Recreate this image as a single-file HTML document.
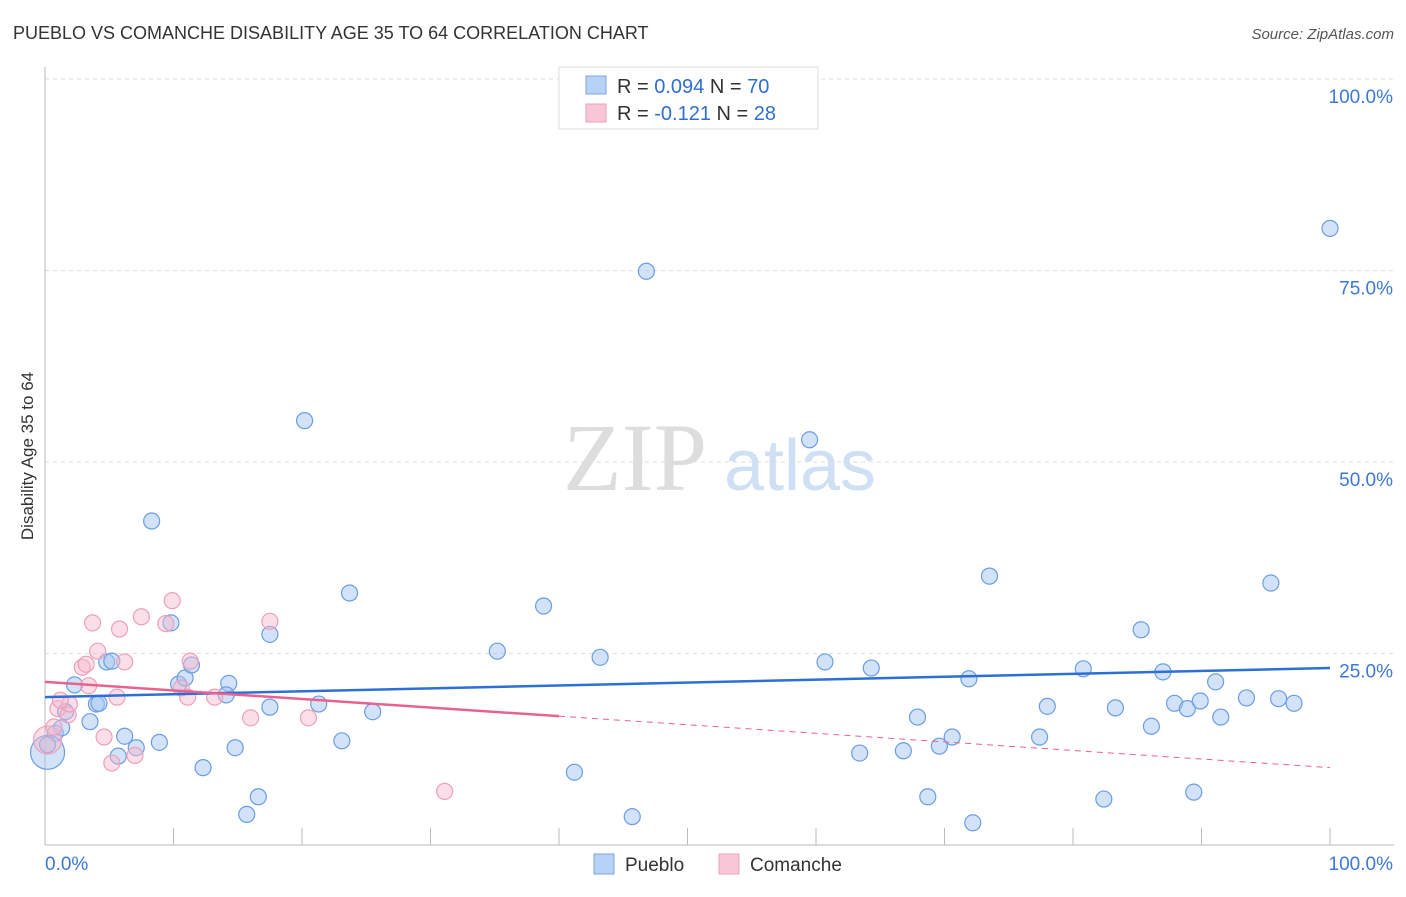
<!DOCTYPE html>
<html><head><meta charset="utf-8"><style>
body{margin:0;background:#fff;font-family:"Liberation Sans",sans-serif;}
svg text{font-family:"Liberation Sans",sans-serif;}
</style></head><body>
<svg id="c" width="1406" height="892">
<text x="13" y="39" font-size="18" fill="#333">PUEBLO VS COMANCHE DISABILITY AGE 35 TO 64 CORRELATION CHART</text>
<text x="1394" y="39" font-size="15" fill="#555" font-style="italic" text-anchor="end">Source: ZipAtlas.com</text>
<text transform="translate(33,456) rotate(-90)" font-size="17" fill="#333" text-anchor="middle">Disability Age 35 to 64</text>
<g>
<text x="635" y="490" font-size="96" fill="#ddd" text-anchor="middle" font-family="Liberation Serif,serif" style="font-family:'Liberation Serif',serif">ZIP</text>
<text x="800" y="490" font-size="72" fill="#cfe0f5" text-anchor="middle">atlas</text>
</g>
<g id="grid"></g><g id="axes"></g><g id="pts"></g><g id="lines"></g>
<g>
<rect x="559" y="67" width="259" height="62" fill="#fff" stroke="#ddd"/>
<rect x="586" y="76" width="20" height="18" fill="#b8d2f5" stroke="#7aa7e6"/>
<rect x="586" y="104" width="20" height="18" fill="#f8c6d6" stroke="#eca3bb"/>
<text x="617" y="93" font-size="20" fill="#333">R = <tspan fill="#2f6fd0">0.094</tspan>   N = <tspan fill="#2f6fd0">70</tspan></text>
<text x="617" y="120" font-size="20" fill="#333">R = <tspan fill="#2f6fd0">-0.121</tspan>   N = <tspan fill="#2f6fd0">28</tspan></text>
</g>
<g>
<rect x="594" y="854" width="20" height="20" fill="#b8d2f5" stroke="#7aa7e6"/>
<text x="625" y="871" font-size="19" fill="#333">Pueblo</text>
<rect x="719" y="854" width="20" height="20" fill="#f8c6d6" stroke="#eca3bb"/>
<text x="750" y="871" font-size="19" fill="#333">Comanche</text>
</g>
</svg>
<script>
const yTicks=[100,75,50,25];
const yTickLabels=["100.0%","75.0%","50.0%","25.0%"];
const xTicks=[0,10,20,30,40,50,60,70,80,90,100];
const puebloX=[0.8,1.3,2.3,3.5,4.0,4.2,4.8,5.2,5.7,6.2,7.1,8.3,8.9,9.8,10.4,10.9,11.4,12.3,14.3,14.1,14.8,15.7,16.6,17.5,17.5,20.2,21.3,23.1,23.7,25.5,35.2,38.8,41.2,43.2,45.7,46.8,59.5,60.7,63.4,64.3,66.8,67.9,68.7,69.6,70.6,71.9,72.2,73.5,77.4,78.0,80.8,82.4,83.3,85.3,86.1,87.0,87.9,88.9,89.9,91.1,91.5,93.5,95.4,96.0,97.2,100,89.4,0.2,1.6,0.2];
const puebloY=[14.6,15.3,20.9,16.1,18.4,18.5,23.9,24.0,11.6,14.2,12.7,42.3,13.4,29.0,21.0,21.8,23.5,10.1,21.1,19.6,12.7,4.0,6.3,27.5,18.0,55.4,18.4,13.6,32.9,17.4,25.3,31.2,9.5,24.5,3.7,74.9,52.9,23.9,12.0,23.1,12.3,16.7,6.3,12.9,14.1,21.7,2.9,35.1,14.1,18.1,23.0,6.0,17.9,28.1,15.5,22.6,18.5,17.8,18.8,21.3,16.7,19.2,34.2,19.1,18.5,80.5,6.9,12.1,17.4,13.1];
const comancheX=[1.0,1.8,1.9,2.9,3.2,3.4,3.7,4.1,4.6,5.2,5.6,5.8,6.2,7.0,7.5,9.4,9.9,10.6,11.1,11.3,13.2,16.0,17.5,20.5,31.1,0.2,0.7,1.2];
const comancheY=[17.8,17.0,18.4,23.2,23.6,20.8,29.0,25.3,14.1,10.7,19.3,28.2,23.9,11.7,29.8,28.9,31.9,20.5,19.3,24.0,19.3,16.6,29.2,16.6,7.0,13.7,15.4,18.9];
const puebloTrend=[19.3,23.1];
const comancheTrend=[21.3,10.1];
const comancheSolidEnd=40;
const X0=45,X1=1330,Y0=845,Y100=79;
const sx=v=>X0+(X1-X0)*v/100, sy=v=>Y0-(Y0-Y100)*v/100;
const NS="http://www.w3.org/2000/svg";
function mk(t,a,p){const e=document.createElementNS(NS,t);for(const k in a)e.setAttribute(k,a[k]);document.getElementById(p).appendChild(e);return e;}
yTicks.forEach((v,i)=>{
 const g=mk('line',{x1:X0,x2:1394,y1:sy(v),y2:sy(v),stroke:'#ddd','stroke-dasharray':'4,4'},'grid');
 
 
 const t=mk('text',{x:1393,y:sy(v)+24,'font-size':19,fill:'#3b78d8','text-anchor':'end'},'axes');
 t.textContent=yTickLabels[i];
 
 
});
const ax=mk('line',{x1:X0,x2:X0,y1:67,y2:Y0,stroke:'#bbb'},'axes');


const bx=mk('line',{x1:X0,x2:1394,y1:Y0,y2:Y0,stroke:'#bbb'},'axes');


xTicks.forEach(v=>{const l=mk('line',{x1:sx(v),x2:sx(v),y1:828,y2:Y0,stroke:'#bbb'},'axes');
 
 });
[["0.0%",45,'start'],["100.0%",1393,'end']].forEach(a=>{const t=mk('text',{x:a[1],y:870,'font-size':19,fill:'#3b78d8','text-anchor':a[2]},'axes');t.textContent=a[0];
 
 });
puebloX.forEach((x,i)=>{const r=(i==67)?17:8;
 const c=mk('circle',{cx:sx(x),cy:sy(puebloY[i]),r:r,fill:'rgba(165,198,242,0.5)',stroke:'#6a9ee4','stroke-width':1.2},'pts');
 
 });
comancheX.forEach((x,i)=>{const r=(i==25)?14:8;
 const c=mk('circle',{cx:sx(x),cy:sy(comancheY[i]),r:r,fill:'rgba(247,185,205,0.45)',stroke:'#eea0ba','stroke-width':1.2},'pts');
 
 });
const pt=mk('line',{x1:sx(0),y1:sy(puebloTrend[0]),x2:sx(100),y2:sy(puebloTrend[1]),stroke:'#2c6fd6','stroke-width':2.5},'lines');


const cAt=x=>comancheTrend[0]+(comancheTrend[1]-comancheTrend[0])*x/100;
const ct=mk('line',{x1:sx(0),y1:sy(cAt(0)),x2:sx(comancheSolidEnd),y2:sy(cAt(comancheSolidEnd)),stroke:'#e8628f','stroke-width':2.5},'lines');


const cd=mk('line',{x1:sx(comancheSolidEnd),y1:sy(cAt(comancheSolidEnd)),x2:sx(100),y2:sy(cAt(100)),stroke:'#e8628f','stroke-width':1,'stroke-dasharray':'6,5'},'lines');


</script>
</body></html>
